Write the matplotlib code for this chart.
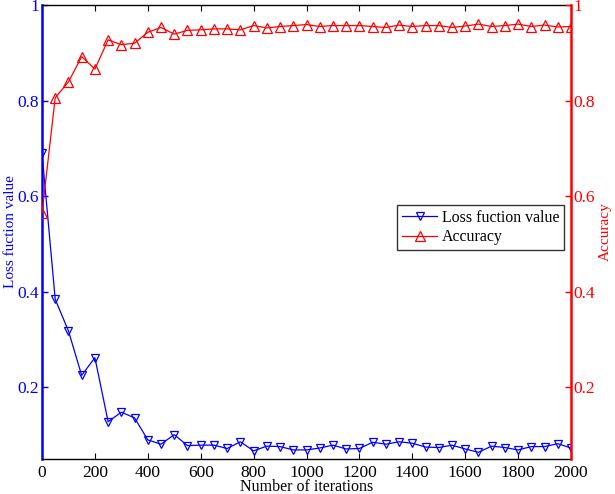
import matplotlib
matplotlib.use("Agg")
import matplotlib.pyplot as plt
import numpy as np

plt.rcParams['font.family'] = ['Liberation Serif', 'DejaVu Serif']
plt.rcParams['mathtext.fontset'] = 'stix'

iterations = list(range(0, 2001, 50))
loss = [0.690, 0.384, 0.318, 0.225, 0.262, 0.128, 0.148, 0.136, 0.090, 0.081,
        0.101, 0.078, 0.079, 0.079, 0.072, 0.086, 0.067, 0.077, 0.076, 0.069,
        0.069, 0.073, 0.079, 0.071, 0.072, 0.085, 0.081, 0.086, 0.083, 0.075,
        0.074, 0.079, 0.071, 0.064, 0.077, 0.074, 0.069, 0.076, 0.076, 0.082,
        0.073]
accuracy = [0.564, 0.806, 0.839, 0.892, 0.866, 0.927, 0.917, 0.920, 0.943, 0.953,
            0.939, 0.947, 0.948, 0.950, 0.950, 0.948, 0.957, 0.952, 0.955, 0.957,
            0.959, 0.955, 0.957, 0.957, 0.957, 0.955, 0.953, 0.958, 0.955, 0.957,
            0.957, 0.953, 0.956, 0.960, 0.955, 0.957, 0.960, 0.955, 0.958, 0.954,
            0.955]
xticks = [0, 200, 400, 600, 800, 1000, 1200, 1400, 1600, 1800, 2000]
yticks = [0.2, 0.4, 0.6, 0.8, 1.0]
yticklabels = ['0.2', '0.4', '0.6', '0.8', '1']

fig = plt.figure(figsize=(6.15, 4.94), dpi=100)
ax = fig.add_axes([42/615, 1-459/494, (571-42)/615, (459-5)/494])
ax2 = ax.twinx()

blue = '#0000ff'
red = '#ff0000'
l1, = ax.plot(iterations, loss, color=blue, lw=0.9, marker='v', ms=6,
              mfc='none', mec=blue, mew=0.9, label='Loss fuction value')
l2, = ax2.plot(iterations, accuracy, color=red, lw=0.9, marker='^', ms=7,
               mfc='none', mec=red, mew=0.9, label='Accuracy')

for a in (ax, ax2):
    a.set_xlim(0, 2000)
    a.set_ylim(0.05, 1.0)
    a.set_yticks(yticks)
    a.set_yticklabels(yticklabels)
    for s in a.spines.values():
        s.set_linewidth(1.0)

ax.set_xticks(xticks)
ax.tick_params(axis='x', direction='in', top=True, length=4, labelsize=12.5, pad=4)
ax.tick_params(axis='y', direction='in', colors=blue, length=4, labelsize=12.5, width=1, pad=2)
ax2.tick_params(axis='y', direction='in', colors=red, length=4, labelsize=12.5, width=1, pad=2)

ax.spines['left'].set_color(blue)
ax.spines['left'].set_linewidth(1.8)
ax2.spines['left'].set_visible(False)
ax2.spines['right'].set_color(red)
ax2.spines['right'].set_linewidth(1.8)
ax.spines['right'].set_visible(False)
ax2.spines['top'].set_visible(False)
ax2.spines['bottom'].set_visible(False)

ax.set_xlabel('Number of iterations', fontsize=11.5, labelpad=-1)
ax.set_ylabel('Loss fuction value', fontsize=11, color=blue)
ax.yaxis.set_label_coords(-0.047, 0.5)
ax2.set_ylabel('Accuracy', fontsize=11, color=red)
ax2.yaxis.set_label_coords(1.053, 0.5)

leg = ax2.legend(handles=[l1, l2], loc='center right',
                 bbox_to_anchor=(0.987, 0.51), fontsize=11.4, frameon=True,
                 fancybox=False, edgecolor='black', handlelength=2.2,
                 borderpad=0.3, labelspacing=0.2, handletextpad=0.3,
                 borderaxespad=0)
leg.get_frame().set_linewidth(1.0)

fig.savefig('out.png', dpi=100)
